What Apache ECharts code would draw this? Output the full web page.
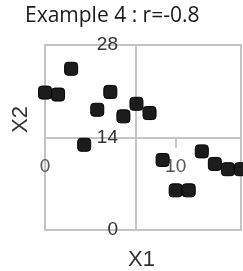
<!DOCTYPE html>
<html>
<head>
    <meta charset="utf-8">
    <title>Example 4</title>
    <script src="https://cdn.jsdelivr.net/npm/echarts@6/dist/echarts.min.js"></script>
    <style>
      html, body { margin: 0; padding: 0; background: #fff; }
    </style>
</head>
<body>
    <div id="main" style="width: 243px;height:271px;"></div>

<script type="text/javascript">

// values
var x1_values = [0, 1, 2, 3, 4, 5, 6, 7, 8, 9, 10, 11, 12, 13, 14, 15];
var x2_values = [20.8, 20.5, 24.4, 12.9, 18.2, 20.9, 17.2, 19.1, 17.7, 10.6, 6.0, 6.0, 11.9, 10.0, 9.2, 9.2];
var title_text = 'Example 4 : r=-0.8';

var points = x1_values.map(function(x, i){ return [x, x2_values[i]]; });

var myChart = echarts.init(document.getElementById('main'));

myChart.setOption({
    animation: false,
    title: {
        text: title_text,
        left: 20,
        top: 1,
        textStyle: {
            fontFamily: 'Open Sans',
            fontSize: 21,
            fontWeight: 'normal',
            color: '#1a1a1a'
        }
    },
    grid: {
        left: 45,
        top: 45,
        width: 196,
        height: 185,
        show: true,
        borderColor: '#c4c4c4',
        borderWidth: 2
    },
    xAxis: {
        type: 'value',
        min: 0,
        max: 15,
        interval: 10,
        position: 'bottom',
        offset: -92.5,
        axisLine: { show: true, onZero: false, lineStyle: { color: '#c4c4c4', width: 2 } },
        axisTick: { show: true, length: 10, lineStyle: { color: '#c4c4c4', width: 2 } },
        axisLabel: {
            showMaxLabel: false,
            margin: 20,
            fontFamily: 'Liberation Sans',
            fontSize: 19,
            color: '#555'
        },
        splitLine: { show: false }
    },
    yAxis: {
        type: 'value',
        min: 0,
        max: 28,
        interval: 14,
        position: 'left',
        offset: -91,
        axisLine: { show: true, onZero: false, lineStyle: { color: '#c4c4c4', width: 2 } },
        axisTick: { show: false },
        axisLabel: {
            margin: 18,
            fontFamily: 'Liberation Sans',
            fontSize: 19,
            color: '#333'
        },
        splitLine: { show: false }
    },
    graphic: [
        {
            type: 'text',
            left: 128,
            top: 249,
            style: { text: 'X1', font: '22px "Liberation Sans"', fill: '#333' }
        },
        {
            type: 'text',
            x: 10,
            y: 133,
            rotation: Math.PI / 2,
            style: { text: 'X2', font: '22px "Liberation Sans"', fill: '#333' }
        }
    ],
    series: [{
        type: 'scatter',
        data: points,
        symbol: 'roundRect',
        symbolSize: 13,
        clip: false,
        itemStyle: {
            color: '#1c1c1c',
            borderColor: '#000',
            borderWidth: 1,
            opacity: 1
        }
    }]
});
</script>
</body>
</html>
